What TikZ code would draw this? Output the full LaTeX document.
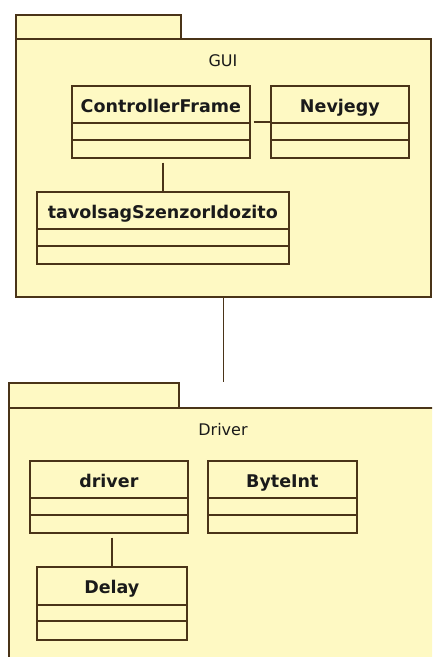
\documentclass[tikz,border=0pt]{standalone}
\usepackage{fontspec}
\setmainfont{DejaVu Sans}
\usetikzlibrary{calc}
\usepackage{xcolor}
\definecolor{PkgFill}{HTML}{FEF9C3}
\definecolor{Edge}{HTML}{4A3418}
\definecolor{Ink}{HTML}{1A1A1A}

\tikzset{
  pkgshape/.style={draw=Edge,fill=PkgFill,line width=1.7pt,inner sep=0pt,anchor=north west},
  pkgname/.style={anchor=base,text=Ink,font=\fontsize{16}{19}\selectfont},
  classbox/.style={draw=Edge,fill=PkgFill,line width=1.7pt,inner sep=0pt,anchor=north west,minimum height=72pt},
  classname/.style={anchor=base,text=Ink,font=\fontsize{17.5}{20}\selectfont\bfseries},
  divider/.style={draw=Edge,line width=1.7pt},
  assoc/.style={draw=Edge,line width=1.7pt}
}

\begin{document}
\begin{tikzpicture}[x=1pt,y=-1pt]
\useasboundingbox (0,0) rectangle (432,657);
\clip (0,0) rectangle (432,657);
% GUI package
\node[pkgshape,minimum width=165pt,minimum height=24pt] (guitab) at (15,14) {};
\node[pkgshape,minimum width=415pt,minimum height=258pt] (gui) at (15,38) {};
\node[pkgname] (guiname) at (223,66) {GUI};
% Driver package
\node[pkgshape,minimum width=170pt,minimum height=25pt] (drvtab) at (8,382) {};
\node[pkgshape,minimum width=432pt,minimum height=262pt] (drvpkg) at (8,407) {};
\node[pkgname] (drvname) at (223,435) {Driver};
% classes in GUI
\node[classbox,minimum width=178pt] (cf) at (71,85) {};
\node[classname] (cfname) at ($(cf.north)+(0,27)$) {ControllerFrame};
\draw[divider] ([yshift=-38pt]cf.north west) -- ([yshift=-38pt]cf.north east);
\draw[divider] ([yshift=-55pt]cf.north west) -- ([yshift=-55pt]cf.north east);
\node[classbox,minimum width=138pt] (nev) at (270,85) {};
\node[classname] (nevname) at ($(nev.north)+(0,27)$) {Nevjegy};
\draw[divider] ([yshift=-38pt]nev.north west) -- ([yshift=-38pt]nev.north east);
\draw[divider] ([yshift=-55pt]nev.north west) -- ([yshift=-55pt]nev.north east);
\node[classbox,minimum width=252pt] (tav) at (36,191) {};
\node[classname] (tavname) at ($(tav.north)+(0,27)$) {tavolsagSzenzorIdozito};
\draw[divider] ([yshift=-38pt]tav.north west) -- ([yshift=-38pt]tav.north east);
\draw[divider] ([yshift=-55pt]tav.north west) -- ([yshift=-55pt]tav.north east);
% classes in Driver
\node[classbox,minimum width=158pt] (drv) at (29,460) {};
\node[classname] (drvcname) at ($(drv.north)+(0,27)$) {driver};
\draw[divider] ([yshift=-38pt]drv.north west) -- ([yshift=-38pt]drv.north east);
\draw[divider] ([yshift=-55pt]drv.north west) -- ([yshift=-55pt]drv.north east);
\node[classbox,minimum width=149pt] (bint) at (207,460) {};
\node[classname] (bintname) at ($(bint.north)+(0,27)$) {ByteInt};
\draw[divider] ([yshift=-38pt]bint.north west) -- ([yshift=-38pt]bint.north east);
\draw[divider] ([yshift=-55pt]bint.north west) -- ([yshift=-55pt]bint.north east);
\node[classbox,minimum width=150pt,minimum height=73pt] (dly) at (36,566) {};
\node[classname] (dlyname) at ($(dly.north)+(0,27)$) {Delay};
\draw[divider] ([yshift=-39pt]dly.north west) -- ([yshift=-39pt]dly.north east);
\draw[divider] ([yshift=-55pt]dly.north west) -- ([yshift=-55pt]dly.north east);
% associations
\draw[assoc] ([xshift=3pt,yshift=-37pt]cf.north east) -- ([yshift=-37pt]nev.north west);
\draw[assoc] ($(tav.north |- cf.south)+(0,4)$) -- (tav.north);
\draw[assoc] (gui.south) -- (gui.south |- drvtab.north);
\draw[assoc] ($(dly.north |- drv.south)+(0,4)$) -- (dly.north);
\end{tikzpicture}
\end{document}
